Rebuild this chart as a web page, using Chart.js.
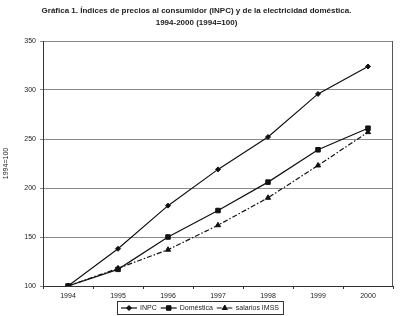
<!DOCTYPE html>
<html>
<head>
<meta charset="utf-8">
<script src="https://cdn.jsdelivr.net/npm/chart.js@4.4.1/dist/chart.umd.min.js"></script>
<style>
html,body{margin:0;padding:0;background:#fff;}
#wrap{width:400px;height:316px;position:relative;}
</style>
</head>
<body>
<div id="wrap"><canvas id="c" width="400" height="316"></canvas></div>
<script>
const years = ["1994","1995","1996","1997","1998","1999","2000"];
const inpc = [100, 138, 182, 219, 252, 296, 324];
const domestica = [100, 117, 150, 177, 206, 239, 261];
const salarios = [100, 118, 137, 162, 190, 223, 257];
const seriesNames = ["INPC", "Doméstica", "salarios IMSS"];
const titleLines = ["Gráfica 1. Índices de precios al consumidor (INPC) y de la electricidad doméstica.", "1994-2000 (1994=100)"];
const yTitle = "1994=100";

const FONT = "'Liberation Sans', Arial, sans-serif";
const TXT = "#222";

const legendPlugin = {
  id: 'boxLegend',
  afterDraw(chart) {
    const ctx = chart.ctx;
    const ds = chart.data.datasets;
    ctx.save();
    ctx.font = "7px " + FONT;
    ctx.textBaseline = "middle";
    const sampleW = 16, gapA = 3, gapB = 4, padX = 4;
    let total = padX;
    const widths = ds.map(d => ctx.measureText(d.label).width);
    ds.forEach((d, i) => { total += sampleW + gapA + widths[i] + (i < ds.length - 1 ? gapB : 0); });
    total += padX;
    const cx = 200, top = 301, h = 13;
    const left = Math.round(cx - total / 2);
    ctx.strokeStyle = "#333";
    ctx.lineWidth = 1;
    ctx.strokeRect(left + 0.5, top + 0.5, total, h);
    let x = left + padX;
    const y = top + h / 2 + 0.5;
    ds.forEach((d, i) => {
      ctx.save();
      ctx.strokeStyle = d.borderColor;
      ctx.fillStyle = d.pointBackgroundColor;
      ctx.lineWidth = d.borderWidth;
      ctx.setLineDash(d.borderDash || []);
      ctx.beginPath();
      ctx.moveTo(x, y); ctx.lineTo(x + sampleW, y);
      ctx.stroke();
      ctx.setLineDash([]);
      ctx.lineWidth = 1;
      Chart.helpers.drawPoint(ctx, {pointStyle: d.pointStyle, rotation: 0, borderWidth: 1, radius: d.pointRadius}, x + sampleW / 2, y);
      ctx.restore();
      ctx.fillStyle = TXT;
      ctx.fillText(d.label, x + sampleW + gapA, y);
      x += sampleW + gapA + widths[i] + gapB;
    });
    ctx.restore();
  }
};

const mk = (label, data, style, radius, dash) => ({
  label, data,
  borderColor: "#111",
  backgroundColor: "#111",
  pointBackgroundColor: "#111",
  pointBorderColor: "#111",
  borderWidth: 1.2,
  borderDash: dash,
  pointStyle: style,
  pointRadius: radius,
  pointBorderWidth: 1,
  tension: 0,
  fill: false
});

const chart = new Chart(document.getElementById('c'), {
  type: 'line',
  data: {
    labels: years,
    datasets: [
      mk(seriesNames[0], inpc, 'rectRot', 2.5, []),
      mk(seriesNames[1], domestica, 'rect', 3.2, []),
      mk(seriesNames[2], salarios, 'triangle', 3, [5, 2, 1.5, 2])
    ]
  },
  options: {
    responsive: false,
    animation: false,
    devicePixelRatio: 1,
    layout: { padding: { left: 0, right: 7, top: 0, bottom: 16 } },
    plugins: {
      legend: { display: false },
      tooltip: { enabled: false },
      title: {
        display: true,
        text: titleLines,
        color: TXT,
        font: { family: FONT, size: 8, weight: 'bold', lineHeight: 1.5 },
        padding: { top: 5, bottom: 12 }
      }
    },
    scales: {
      x: {
        offset: true,
        grid: { offset: true, drawOnChartArea: false, color: "#333", tickLength: 3, drawTicks: true },
        border: { color: "#333", width: 1 },
        ticks: { color: TXT, font: { family: FONT, size: 7 }, padding: 3, maxRotation: 0 },
        afterFit(s) { s.height = 14; }
      },
      y: {
        min: 100, max: 350,
        ticks: { stepSize: 50, color: TXT, font: { family: FONT, size: 7 }, padding: 4 },
        grid: { color: "#8a8a8a", lineWidth: 1, tickLength: 3 },
        border: { color: "#333", width: 1 },
        title: { display: true, text: yTitle, color: TXT, font: { family: FONT, size: 7 }, padding: { top: 2, bottom: 0 } },
        afterFit(s) { s.width = 43; }
      }
    }
  },
  plugins: [legendPlugin, {
    id: 'rightBorder',
    afterDraw(chart) {
      const a = chart.chartArea, ctx = chart.ctx;
      ctx.save();
      ctx.strokeStyle = "#555";
      ctx.lineWidth = 1;
      ctx.beginPath();
      ctx.moveTo(Math.round(a.right) - 0.5, a.top);
      ctx.lineTo(Math.round(a.right) - 0.5, a.bottom);
      ctx.stroke();
      ctx.restore();
    }
  }]
});
</script>
</body>
</html>
